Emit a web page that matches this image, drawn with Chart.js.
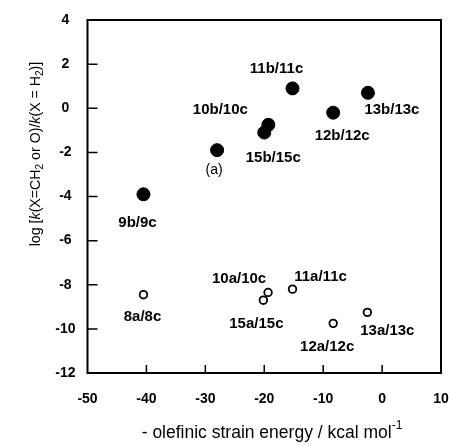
<!DOCTYPE html>
<html>
<head>
<meta charset="utf-8">
<script src="https://cdn.jsdelivr.net/npm/chart.js@4.4.1/dist/chart.umd.min.js"></script>
<style>
  body { margin: 0; background: #fff; }
  #wrap { width: 449px; height: 446px; position: relative; }
</style>
</head>
<body>
<div id="wrap"><canvas id="myChart"></canvas></div>
<script>
// strain energy (x) vs log k ratio (y)
var filledX = [-40.5, -28.0, -20.0, -19.3, -15.2, -8.3, -2.4];
var filledY = [-3.9, -1.9, -1.1, -0.75, 0.9, -0.2, 0.7];
var filledLabels = ["9b/9c", "(a)", "15b/15c", "10b/10c", "11b/11c", "12b/12c", "13b/13c"];

var openX = [-40.5, -19.35, -20.15, -15.2, -8.3, -2.5];
var openY = [-8.45, -8.35, -8.7, -8.2, -9.75, -9.25];
var openLabels = ["8a/8c", "10a/10c", "15a/15c", "11a/11c", "12a/12c", "13a/13c"];

var xTicks = [-50, -40, -30, -20, -10, 0, 10];
var yTicks = [4, 2, 0, -2, -4, -6, -8, -10, -12];

var FONT = "'Liberation Sans', Arial, Helvetica, sans-serif";

// label offsets in px from each point [dx, dy]
var filledOffsets = [[-6, 29], [-3, 20], [9, 25], [-48, -15], [-16, -20], [9, 23], [24, 17]];
var openOffsets = [[-1, 22], [-29, -14], [-7, 24], [28, -12], [-6, 23], [20, 19]];

function toPoints(xs, ys) {
  var pts = [];
  for (var i = 0; i < xs.length; i++) pts.push({x: xs[i], y: ys[i]});
  return pts;
}

// draw a list of [text, style] runs centred at 0,0
function drawRuns(ctx, runs, size) {
  var total = 0;
  runs.forEach(function(r) {
    ctx.font = fontFor(r[1], size);
    r.w = ctx.measureText(r[0]).width;
    total += r.w;
  });
  var x = -total / 2;
  ctx.textAlign = "left";
  ctx.textBaseline = "middle";
  runs.forEach(function(r) {
    ctx.font = fontFor(r[1], size);
    var dy = r[1] == "sub" ? size * 0.3 : (r[1] == "sup" ? -size * 0.4 : 0);
    ctx.fillText(r[0], x, dy);
    x += r.w;
  });
}
function fontFor(style, size) {
  if (style == "it") return "italic " + size + "px " + FONT;
  if (style == "sub" || style == "sup") return Math.round(size * 0.7) + "px " + FONT;
  return size + "px " + FONT;
}

var decorPlugin = {
  id: "decor",
  afterDatasetsDraw: function(chart) {
    var ctx = chart.ctx;
    var a = chart.chartArea;
    var xs = chart.scales.x, ys = chart.scales.y;
    ctx.save();
    // frame
    ctx.strokeStyle = "#000";
    ctx.lineWidth = 2;
    ctx.strokeRect(a.left, a.top, a.right - a.left, a.bottom - a.top);
    // inward ticks
    ctx.lineWidth = 1.5;
    ctx.beginPath();
    yTicks.forEach(function(v) {
      if (v == ys.min || v == ys.max) return;
      var p = ys.getPixelForValue(v);
      ctx.moveTo(a.left, p); ctx.lineTo(a.left + 10, p);
    });
    xTicks.forEach(function(v) {
      if (v == xs.min || v == xs.max) return;
      var p = xs.getPixelForValue(v);
      ctx.moveTo(p, a.bottom); ctx.lineTo(p, a.bottom - 8);
    });
    ctx.stroke();

    // point labels
    ctx.fillStyle = "#000";
    ctx.textAlign = "center";
    ctx.textBaseline = "middle";
    var sets = [[filledLabels, filledOffsets], [openLabels, openOffsets]];
    sets.forEach(function(s, di) {
      var meta = chart.getDatasetMeta(di);
      meta.data.forEach(function(el, i) {
        var txt = s[0][i];
        ctx.font = (txt == "(a)" ? "14px " : "bold 15px ") + FONT;
        ctx.fillText(txt, el.x + s[1][i][0], el.y + s[1][i][1]);
      });
    });

    // axis titles
    ctx.save();
    ctx.translate(36, 154);
    ctx.rotate(-Math.PI / 2);
    drawRuns(ctx, [["log [", ""], ["k", "it"], ["(X=CH", ""], ["2", "sub"], [" or O)/", ""],
                   ["k", "it"], ["(X = H", ""], ["2", "sub"], [")]", ""]], 14.2);
    ctx.restore();
    ctx.save();
    ctx.translate(272, 433);
    drawRuns(ctx, [["- olefinic strain energy / kcal mol", ""], ["-1", "sup"]], 17.5);
    ctx.restore();
    ctx.restore();
  }
};

var ctx = document.getElementById("myChart").getContext("2d");
var options = {
  type: "scatter",
  data: {
    datasets: [
      {
        label: "b/c",
        data: toPoints(filledX, filledY),
        backgroundColor: "#000",
        borderColor: "#000",
        pointRadius: 6.5,
        pointHoverRadius: 6.5
      },
      {
        label: "a/c",
        data: toPoints(openX, openY),
        backgroundColor: "#fff",
        borderColor: "#000",
        borderWidth: 1.8,
        pointRadius: 3.8,
        pointHoverRadius: 3.8
      }
    ]
  },
  options: {
    responsive: true,
    maintainAspectRatio: false,
    animation: false,
    layout: { padding: { left: 0, right: 8, top: 20, bottom: 0 } },
    plugins: { legend: { display: false }, tooltip: { enabled: false } },
    scales: {
      x: {
        type: "linear",
        min: -50, max: 10,
        afterBuildTicks: function(s) { s.ticks = xTicks.map(function(v) { return {value: v}; }); },
        afterFit: function(s) { s.height = 73; s.paddingLeft = 0; s.paddingRight = 0; },
        grid: { display: false, drawTicks: false },
        border: { display: false },
        ticks: { color: "#000", font: { family: FONT, size: 14, weight: "bold" }, padding: 18, maxRotation: 0 }
      },
      y: {
        type: "linear",
        min: -12, max: 4,
        afterBuildTicks: function(s) { s.ticks = yTicks.map(function(v) { return {value: v}; }); },
        afterFit: function(s) { s.width = 87.5; s.paddingTop = 0; s.paddingBottom = 0; },
        grid: { display: false, drawTicks: false },
        border: { display: false },
        ticks: { color: "#000", font: { family: FONT, size: 14, weight: "bold" }, padding: 12, crossAlign: "center" }
      }
    }
  },
  plugins: [decorPlugin]
};
new Chart(ctx, options);
</script>
</body>
</html>
